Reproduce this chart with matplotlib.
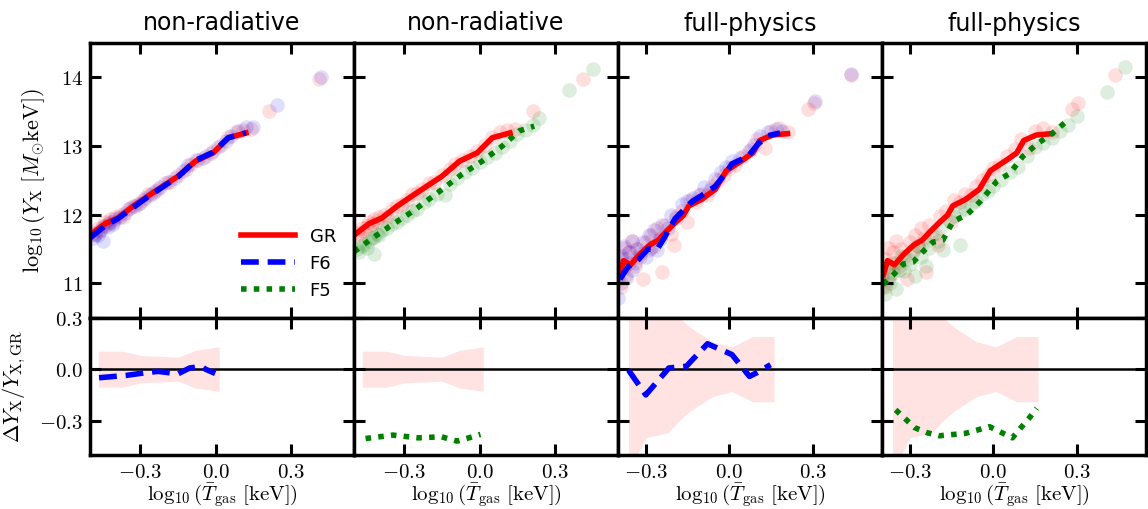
import numpy as np
import matplotlib
matplotlib.use("Agg")
import matplotlib.pyplot as plt
from matplotlib.ticker import FuncFormatter, FixedLocator

plt.rcParams['mathtext.fontset'] = 'cm'
plt.rcParams['font.family'] = ['DejaVu Sans']

titles = ["non-radiative", "non-radiative", "full-physics", "full-physics"]

# ---------------- non-radiative: median lines ----------------
nr_gr_line_x = [-0.50, -0.44, -0.39, -0.33, -0.27, -0.20, -0.15, -0.08, -0.01, 0.05, 0.12]
nr_gr_line_y = [11.70, 11.87, 11.95, 12.12, 12.27, 12.44, 12.56, 12.78, 12.90, 13.12, 13.19]
nr_f6_line_x = [-0.50, -0.44, -0.39, -0.33, -0.27, -0.20, -0.15, -0.08, -0.01, 0.05, 0.12]
nr_f6_line_y = [11.66, 11.84, 11.94, 12.10, 12.26, 12.43, 12.55, 12.79, 12.91, 13.12, 13.19]
nr_f5_line_x = [-0.50, -0.43, -0.35, -0.27, -0.16, -0.07, 0.01, 0.09, 0.157, 0.217]
nr_f5_line_y = [11.46, 11.65, 11.85, 12.04, 12.34, 12.59, 12.78, 13.00, 13.22, 13.29]

# ---------------- non-radiative: individual haloes ----------------
nr_gr_x = [-0.49, -0.48, -0.47, -0.46, -0.45, -0.44, -0.43, -0.42, -0.41, -0.40, -0.38, -0.37,
           -0.35, -0.33, -0.31, -0.29, -0.27, -0.25, -0.23, -0.20, -0.18, -0.15, -0.12, -0.10,
           -0.07, -0.04, -0.01, 0.02, 0.05, 0.08, 0.11, 0.14, 0.21, 0.41]
nr_gr_y = [11.74, 11.70, 11.80, 11.76, 11.83, 11.90, 11.86, 11.93, 11.89, 11.97, 12.00, 11.96,
           12.08, 12.13, 12.15, 12.22, 12.30, 12.31, 12.38, 12.46, 12.47, 12.58, 12.66, 12.74,
           12.79, 12.85, 12.93, 13.02, 13.13, 13.20, 13.24, 13.25, 13.51, 13.97]
nr_f6_x = [-0.49, -0.48, -0.47, -0.46, -0.45, -0.44, -0.43, -0.42, -0.41, -0.40, -0.38, -0.36,
           -0.34, -0.32, -0.30, -0.28, -0.26, -0.24, -0.22, -0.19, -0.16, -0.13, -0.11, -0.08,
           -0.05, -0.02, 0.01, 0.04, 0.06, 0.09, 0.12, 0.15, 0.245, 0.42]
nr_f6_y = [11.66, 11.72, 11.70, 11.78, 11.62, 11.84, 11.82, 11.90, 11.86, 11.94, 11.96, 12.02,
           12.09, 12.12, 12.17, 12.24, 12.28, 12.34, 12.40, 12.47, 12.53, 12.63, 12.72, 12.80,
           12.83, 12.90, 12.98, 13.08, 13.15, 13.22, 13.27, 13.28, 13.59, 14.00]
nr_f5_x = [-0.49, -0.48, -0.47, -0.46, -0.45, -0.44, -0.43, -0.42, -0.42, -0.41, -0.40, -0.39,
           -0.37, -0.35, -0.33, -0.31, -0.29, -0.27, -0.25, -0.22, -0.20, -0.17, -0.14, -0.12,
           -0.09, -0.06, -0.03, 0.00, 0.03, 0.06, 0.09, 0.12, 0.15, 0.18, 0.21, 0.237, 0.357, 0.452]
nr_f5_y = [11.50, 11.45, 11.55, 11.58, 11.52, 11.62, 11.66, 11.68, 11.43, 11.72, 11.70, 11.78,
           11.80, 11.86, 11.90, 11.95, 12.00, 12.06, 12.08, 12.18, 12.23, 12.30, 12.28, 12.45,
           12.53, 12.62, 12.68, 12.76, 12.84, 12.90, 12.98, 13.08, 13.18, 13.24, 13.30, 13.41,
           13.81, 14.12]

# ---------------- full-physics: median lines ----------------
fp_gr_line_x = [-0.395, -0.38, -0.355, -0.32, -0.285, -0.255, -0.225, -0.19, -0.165, -0.145,
                -0.10, -0.05, -0.01, 0.05, 0.085, 0.11, 0.155, 0.21]
fp_gr_line_y = [11.13, 11.33, 11.27, 11.43, 11.56, 11.63, 11.76, 11.90, 11.99, 12.13,
                12.22, 12.37, 12.64, 12.80, 12.90, 13.08, 13.16, 13.18]
fp_f6_line_x = [-0.393, -0.364, -0.328, -0.292, -0.26, -0.231, -0.195, -0.134, -0.087, -0.051,
                -0.015, 0.01, 0.068, 0.104, 0.14, 0.183]
fp_f6_line_y = [11.06, 11.24, 11.34, 11.50, 11.49, 11.68, 11.94, 12.19, 12.31, 12.41,
                12.59, 12.74, 12.85, 13.03, 13.15, 13.19]
fp_f5_line_x = [-0.396, -0.36, -0.324, -0.288, -0.253, -0.217, -0.181, -0.145, -0.094, -0.047,
                0.014, 0.06, 0.107, 0.158, 0.215, 0.258]
fp_f5_line_y = [10.99, 11.12, 11.28, 11.31, 11.46, 11.60, 11.63, 11.90, 12.00, 12.19,
                12.49, 12.60, 12.85, 13.03, 13.19, 13.34]

# ---------------- full-physics: individual haloes ----------------
fp_gr_x = [-0.40, -0.39, -0.39, -0.38, -0.38, -0.37, -0.36, -0.36, -0.35, -0.34, -0.33, -0.32,
           -0.31, -0.30, -0.29, -0.28, -0.27, -0.26, -0.25, -0.24, -0.23, -0.21, -0.20, -0.19,
           -0.17, -0.15, -0.14, -0.12, -0.10, -0.08, -0.06, -0.04, -0.02, 0.00, 0.02, 0.05,
           0.08, 0.10, 0.13, 0.15, 0.18, 0.21, 0.285, 0.305, 0.44]
fp_gr_y = [11.05, 11.35, 10.95, 11.22, 11.52, 11.12, 11.45, 11.30, 11.62, 11.25, 11.50, 11.38,
           11.06, 11.60, 11.48, 11.70, 11.55, 11.80, 11.66, 11.16, 11.85, 11.72, 11.56, 11.98,
           12.05, 11.90, 12.22, 12.18, 12.30, 12.28, 12.42, 12.50, 12.58, 12.68, 12.72, 12.85,
           12.96, 13.10, 12.97, 13.22, 13.26, 13.20, 13.54, 13.62, 14.03]
fp_f6_x = [-0.40, -0.40, -0.39, -0.39, -0.38, -0.38, -0.37, -0.37, -0.36, -0.35, -0.35, -0.34,
           -0.33, -0.32, -0.31, -0.30, -0.29, -0.28, -0.27, -0.26, -0.25, -0.24, -0.22, -0.21,
           -0.19, -0.17, -0.15, -0.13, -0.11, -0.09, -0.07, -0.05, -0.03, -0.01, 0.01, 0.04,
           0.07, 0.09, 0.11, 0.14, 0.17, 0.19, 0.308, 0.44]
fp_f6_y = [10.78, 11.15, 11.00, 11.40, 11.25, 11.55, 11.08, 11.35, 11.45, 11.20, 11.62, 11.30,
           11.50, 11.42, 11.60, 11.38, 11.70, 11.52, 11.78, 11.48, 11.65, 11.85, 11.80, 12.00,
           11.95, 12.15, 12.20, 12.25, 12.28, 12.40, 12.36, 12.52, 12.62, 12.70, 12.78, 12.82,
           12.92, 13.02, 13.15, 13.20, 13.25, 13.22, 13.65, 14.05]
fp_f5_x = [-0.40, -0.40, -0.39, -0.38, -0.38, -0.37, -0.36, -0.35, -0.35, -0.34, -0.33, -0.32,
           -0.31, -0.30, -0.29, -0.28, -0.27, -0.26, -0.25, -0.24, -0.23, -0.22, -0.20, -0.19,
           -0.18, -0.16, -0.14, -0.12, -0.12, -0.10, -0.08, -0.06, -0.04, -0.02, 0.00, 0.03,
           0.06, 0.09, 0.12, 0.15, 0.18, 0.21, 0.24, 0.27, 0.30, 0.41, 0.474]
fp_f5_y = [10.95, 11.10, 10.85, 11.05, 11.25, 11.00, 11.15, 11.30, 10.92, 11.20, 11.40, 11.18,
           11.35, 11.28, 11.45, 11.10, 11.55, 11.38, 11.60, 11.25, 11.52, 11.70, 11.62, 11.80,
           11.48, 11.92, 11.98, 12.05, 11.56, 12.08, 12.15, 12.20, 12.30, 12.35, 12.42, 12.50,
           12.62, 12.70, 12.85, 12.98, 13.05, 13.12, 13.22, 13.30, 13.44, 13.79, 14.15]

# ---------------- residuals ----------------
nr_band_x = [-0.467, -0.37, -0.30, -0.15, -0.08, -0.03, 0.014]
nr_band_hw = [0.105, 0.105, 0.08, 0.07, 0.11, 0.12, 0.13]
fp_band_x = [-0.362, -0.30, -0.22, -0.18, -0.141, -0.06, 0.01, 0.085, 0.162]
fp_band_hw = [0.60, 0.40, 0.37, 0.30, 0.245, 0.16, 0.13, 0.19, 0.19]

nr_f6_res_x = [-0.464, -0.354, -0.276, -0.229, -0.15, -0.103, -0.056, -0.041, -0.002]
nr_f6_res_y = [-0.050, -0.036, -0.020, -0.013, -0.027, 0.007, 0.016, 0.000, -0.025]
nr_f5_res_x = [-0.454, -0.345, -0.245, -0.152, -0.09, -0.043, 0.003]
nr_f5_res_y = [-0.404, -0.384, -0.400, -0.394, -0.419, -0.400, -0.380]
fp_f6_res_x = [-0.362, -0.30, -0.217, -0.154, -0.078, 0.01, 0.073, 0.098, 0.149]
fp_f6_res_y = [-0.006, -0.150, 0.007, 0.017, 0.148, 0.085, -0.042, -0.022, 0.026]
fp_f5_res_x = [-0.351, -0.282, -0.238, -0.194, -0.10, -0.013, 0.031, 0.069, 0.10, 0.132, 0.157]
fp_f5_res_y = [-0.237, -0.341, -0.370, -0.388, -0.374, -0.335, -0.370, -0.400, -0.341, -0.280, -0.228]

xlims = [(-0.5, 0.55), (-0.5, 0.55), (-0.4, 0.55), (-0.4, 0.55)]

RED, BLUE, GREEN = 'red', 'blue', 'green'
styles = {
    'GR': dict(color=RED, ls='-', lw=4),
    'F6': dict(color=BLUE, ls=(0, (3.2, 1.6)), lw=4),
    'F5': dict(color=GREEN, ls=(0, (1, 1.3)), lw=4),
}

panels = [
    dict(pts=[(nr_gr_x, nr_gr_y, RED), (nr_f6_x, nr_f6_y, BLUE)],
         lines=[('GR', nr_gr_line_x, nr_gr_line_y), ('F6', nr_f6_line_x, nr_f6_line_y)],
         band=(nr_band_x, nr_band_hw), res=('F6', nr_f6_res_x, nr_f6_res_y)),
    dict(pts=[(nr_gr_x, nr_gr_y, RED), (nr_f5_x, nr_f5_y, GREEN)],
         lines=[('GR', nr_gr_line_x, nr_gr_line_y), ('F5', nr_f5_line_x, nr_f5_line_y)],
         band=(nr_band_x, nr_band_hw), res=('F5', nr_f5_res_x, nr_f5_res_y)),
    dict(pts=[(fp_gr_x, fp_gr_y, RED), (fp_f6_x, fp_f6_y, BLUE)],
         lines=[('GR', fp_gr_line_x, fp_gr_line_y), ('F6', fp_f6_line_x, fp_f6_line_y)],
         band=(fp_band_x, fp_band_hw), res=('F6', fp_f6_res_x, fp_f6_res_y)),
    dict(pts=[(fp_gr_x, fp_gr_y, RED), (fp_f5_x, fp_f5_y, GREEN)],
         lines=[('GR', fp_gr_line_x, fp_gr_line_y), ('F5', fp_f5_line_x, fp_f5_line_y)],
         band=(fp_band_x, fp_band_hw), res=('F5', fp_f5_res_x, fp_f5_res_y)),
]

fig = plt.figure(figsize=(11.48, 5.09), dpi=100)
gs = fig.add_gridspec(2, 4, height_ratios=[2, 1], hspace=0, wspace=0,
                      left=90/1148, right=1146/1148, top=1-43/509, bottom=1-455/509)

def fmt1(v, pos):
    if abs(v) < 1e-9:
        return r'$0.0$'
    return r'$%.1f$' % v

def fmt0(v, pos):
    return r'$%d$' % int(round(v))

def style_ax(ax):
    for s in ax.spines.values():
        s.set_linewidth(2.5)
    ax.tick_params(direction='in', length=8, width=2.2, top=True, right=True,
                   labelsize=15, pad=5)

for i, p in enumerate(panels):
    ax = fig.add_subplot(gs[0, i])
    axr = fig.add_subplot(gs[1, i])
    for xs, ys, c in p['pts']:
        ax.scatter(xs, ys, s=110, color=c, alpha=0.13, linewidths=0)
    for name, lx, ly in p['lines']:
        ax.plot(lx, ly, label=name, **styles[name])
    ax.set_xlim(*xlims[i])
    ax.set_ylim(10.5, 14.5)
    ax.yaxis.set_major_locator(FixedLocator([11, 12, 13, 14]))
    ax.xaxis.set_major_locator(FixedLocator([-0.3, 0.0, 0.3]))
    ax.yaxis.set_major_formatter(FuncFormatter(fmt0))
    ax.set_xticklabels([])
    ax.set_title(titles[i], fontsize=17, pad=9)
    style_ax(ax)

    bx, bhw = p['band']
    axr.fill_between(bx, [-h for h in bhw], bhw, color=RED, alpha=0.11, linewidth=0)
    axr.axhline(0.0, color='black', lw=1.8)
    name, rx, ry = p['res']
    axr.plot(rx, ry, **styles[name])
    axr.set_xlim(*xlims[i])
    axr.set_ylim(-0.5, 0.3)
    axr.yaxis.set_major_locator(FixedLocator([-0.3, 0.0, 0.3]))
    axr.xaxis.set_major_locator(FixedLocator([-0.3, 0.0, 0.3]))
    axr.xaxis.set_major_formatter(FuncFormatter(fmt1))
    axr.yaxis.set_major_formatter(FuncFormatter(fmt1))
    axr.set_xlabel(r'$\log_{10}(\bar{T}_{\rm gas}\ [{\rm keV}])$', fontsize=15, labelpad=0)
    style_ax(axr)

    if i == 0:
        ax.set_ylabel(r'$\log_{10}(Y_{\rm X}\ [M_{\odot}{\rm keV}])$', fontsize=16, labelpad=10)
        axr.set_ylabel(r'$\Delta Y_{\rm X}/Y_{\rm X,GR}$', fontsize=16, labelpad=8)
        h = [plt.Line2D([], [], **styles[k]) for k in ['GR', 'F6', 'F5']]
        ax.legend(h, ['GR', 'F6', 'F5'], loc='lower right', frameon=False, fontsize=13,
                  handlelength=3.0, borderaxespad=0.6, labelspacing=0.5)
    else:
        ax.set_yticklabels([])
        axr.set_yticklabels([])

fig.savefig('out.png', dpi=100)
